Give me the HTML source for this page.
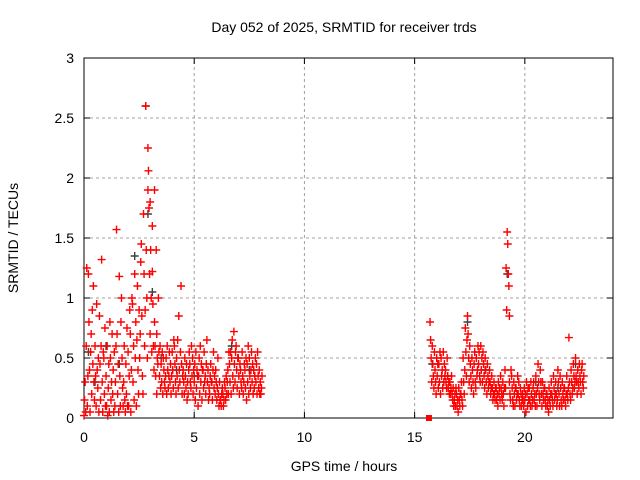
<!DOCTYPE html>
<html><head><meta charset="utf-8"><style>
body{margin:0;background:#fff}
svg{display:block;font-family:"Liberation Sans",sans-serif}
</style></head><body>
<svg id="chart" width="640" height="480">
<rect width="640" height="480" fill="#fff"/>
<text x="344" y="32" font-size="14" text-anchor="middle">Day 052 of 2025, SRMTID for receiver trds</text>
<g id="grid"></g>
<g id="axes"></g>
<g id="darkMarks"></g>
<g id="redMarks"></g>
<text x="344" y="471" font-size="14" text-anchor="middle">GPS time / hours</text>
<text transform="translate(18,238) rotate(-90)" font-size="14" text-anchor="middle">SRMTID / TECUs</text>
</svg>
<script>
const xTicks=[0,5,10,15,20];
const yTicks=[0,0.5,1,1.5,2,2.5,3];
const yTickLabels=["0","0.5","1","1.5","2","2.5","3"];
const redTimes=[0.0,0.1,0.2,0.3,0.4,0.5,0.6,0.7,0.8,0.9,1.0,1.1,1.2,1.3,1.4,1.5,1.6,1.7,1.8,1.9,2.0,2.1,2.2,2.3,2.4,2.5,2.6,2.7,2.8,2.9,3.0,3.1,3.2,3.3,3.4,3.5,3.6,3.7,3.8,3.9,4.0,4.1,4.2,4.3,4.4,4.5,4.6,4.7,4.8,4.9,5.0,5.1,5.2,5.3,5.4,5.5,5.6,5.7,5.8,5.9,6.0,6.1,6.2,6.3,6.4,6.5,6.6,6.7,6.8,6.9,7.0,7.1,7.2,7.3,7.4,7.5,7.6,7.7,7.8,7.9,8.0,
15.7,15.8,15.9,16.0,16.1,16.2,16.3,16.4,16.5,16.6,16.7,16.8,16.9,17.0,17.1,17.2,17.3,17.4,17.5,17.6,17.7,17.8,17.9,18.0,18.1,18.2,18.3,18.4,18.5,18.6,18.7,18.8,18.9,19.0,19.1,19.2,19.3,19.4,19.5,19.6,19.7,19.8,19.9,20.0,20.1,20.2,20.3,20.4,20.5,20.6,20.7,20.8,20.9,21.0,21.1,21.2,21.3,21.4,21.5,21.6,21.7,21.8,21.9,22.0,22.1,22.2,22.3,22.4,22.5,22.6];
const redValues=[[0.02,0.15,0.3,0.05],[0.6,1.25,0.1,0.35],[1.2,0.8,0.4,0.05],[0.55,0.7,0.2,0.9],[0.45,1.1,0.3,0.15],[0.6,0.35,0.1,0.95],[0.4,0.25,0.5,0.05],[0.85,0.45,0.15,0.6],[1.32,0.3,0.05,0.55],[0.5,0.2,0.75,0.1],[0.35,0.1,0.6,0.02],[0.25,0.45,0.05,0.8],[0.5,0.15,0.3,0.7],[0.2,0.4,0.05,0.55],[0.1,0.3,0.6,1.57],[0.7,0.2,0.45,0.05],[1.18,0.35,0.1,0.8],[1.0,0.5,0.25,0.1],[0.3,0.6,0.15,0.05],[0.45,0.2,0.75,0.1],[0.55,0.1,0.35,0.9],[0.7,0.05,0.4,1.0],[0.95,0.3,0.6,0.15],[1.2,0.5,0.8,0.1],[0.65,1.1,0.4,0.2],[0.9,0.5,0.7,1.3],[1.45,0.85,0.35,0.2],[1.7,1.2,0.6,0.9],[2.6,1.4,1.0,0.5,1.9],[2.25,2.06,1.75,1.2,0.7],[1.8,1.4,1.0,0.55,1.6],[1.22,0.95,0.6,0.4,1.9],[0.8,0.6,0.35,1.4,0.2],[0.7,0.5,0.45,1.0],[0.55,0.35,0.6,0.25],[0.45,0.3,0.55,0.2],[0.5,0.4,0.3,0.25],[0.35,0.5,0.2,0.6],[0.4,0.25,0.35,0.55],[0.3,0.45,0.2,0.35],[0.55,0.4,0.25,0.65],[0.6,0.45,0.3,0.2],[0.5,0.35,0.65,0.25],[0.85,0.4,0.3,0.55],[1.1,0.45,0.2,0.35],[0.4,0.3,0.2,0.5],[0.35,0.25,0.45,0.15],[0.3,0.2,0.4,0.55],[0.45,0.3,0.25,0.6],[0.35,0.5,0.2,0.4],[0.3,0.45,0.15,0.55],[0.25,0.4,0.35,0.1],[0.35,0.5,0.2,0.6],[0.3,0.45,0.15,0.4],[0.4,0.25,0.55,0.3],[0.35,0.2,0.45,0.65],[0.3,0.4,0.15,0.25],[0.2,0.35,0.45,0.3],[0.3,0.15,0.4,0.55],[0.25,0.35,0.2,0.4],[0.3,0.15,0.25,0.5],[0.2,0.1,0.3,0.15],[0.15,0.1,0.2,0.25],[0.2,0.1,0.15,0.3],[0.25,0.15,0.35,0.2],[0.3,0.4,0.2,0.55],[0.45,0.3,0.55,0.2],[0.5,0.65,0.35,0.25],[0.72,0.45,0.3,0.55],[0.6,0.4,0.25,0.5],[0.5,0.35,0.2,0.45],[0.4,0.3,0.25,0.55],[0.35,0.2,0.3,0.45],[0.4,0.25,0.5,0.15],[0.45,0.3,0.6,0.2],[0.5,0.35,0.25,0.4],[0.55,0.3,0.45,0.2],[0.4,0.25,0.35,0.5],[0.3,0.45,0.2,0.55],[0.35,0.25,0.4,0.2],[0.3,0.2,0.25,0.35],
[0.8,0.65,0.5,0.3],[0.6,0.45,0.35,0.25],[0.55,0.4,0.3,0.2],[0.5,0.35,0.45,0.25],[0.45,0.3,0.55,0.2],[0.5,0.35,0.4,0.25],[0.55,0.3,0.45,0.35],[0.4,0.3,0.25,0.5],[0.35,0.25,0.3,0.2],[0.3,0.2,0.25,0.35],[0.2,0.15,0.25,0.1],[0.15,0.2,0.1,0.25],[0.2,0.1,0.15,0.05],[0.25,0.15,0.1,0.2],[0.2,0.3,0.15,0.1],[0.5,0.3,0.2,0.4],[0.75,0.55,0.35,0.65],[0.85,0.7,0.5,0.3],[0.6,0.45,0.35,0.25],[0.5,0.4,0.3,0.2],[0.45,0.55,0.3,0.25],[0.5,0.35,0.4,0.6],[0.45,0.55,0.35,0.3],[0.6,0.4,0.5,0.3],[0.55,0.45,0.35,0.25],[0.5,0.4,0.3,0.2],[0.45,0.35,0.25,0.3],[0.4,0.3,0.2,0.25],[0.35,0.25,0.15,0.2],[0.3,0.2,0.15,0.25],[0.25,0.15,0.2,0.1],[0.3,0.2,0.25,0.15],[0.35,0.25,0.2,0.15],[0.3,0.2,0.1,0.25],[0.4,0.25,1.25,0.9],[1.55,1.45,1.2,1.1,0.85],[0.3,0.2,0.15,0.4],[0.35,0.25,0.15,0.1],[0.3,0.2,0.1,0.25],[0.25,0.15,0.2,0.35],[0.2,0.3,0.15,0.1],[0.25,0.2,0.1,0.15],[0.2,0.15,0.1,0.25],[0.15,0.2,0.05,0.3],[0.2,0.1,0.25,0.15],[0.25,0.15,0.1,0.3],[0.2,0.1,0.15,0.25],[0.3,0.15,0.2,0.1],[0.35,0.2,0.1,0.25],[0.45,0.3,0.2,0.15],[0.4,0.3,0.2,0.1],[0.3,0.2,0.15,0.25],[0.25,0.15,0.1,0.2],[0.2,0.1,0.15,0.05],[0.25,0.15,0.1,0.2],[0.3,0.2,0.15,0.1],[0.35,0.25,0.15,0.2],[0.3,0.2,0.1,0.15],[0.4,0.3,0.2,0.1],[0.35,0.25,0.15,0.1],[0.3,0.2,0.15,0.25],[0.25,0.15,0.1,0.2],[0.35,0.2,0.15,0.25],[0.67,0.3,0.2,0.15],[0.4,0.3,0.2,0.25],[0.45,0.35,0.25,0.3],[0.5,0.35,0.3,0.2],[0.4,0.3,0.25,0.45],[0.35,0.3,0.2,0.4],[0.45,0.3,0.25,0.35]];
const darkTimes=[0.2,0.5,1.0,1.6,2.3,2.8,2.9,3.1,3.5,4.2,5.0,5.8,6.7,7.5,15.8,16.5,17.4,18.2,19.2,20.5,21.5,22.3];
const darkValues=[0.55,0.3,0.6,0.45,1.35,2.6,1.7,1.05,0.5,0.4,0.35,0.3,0.6,0.4,0.45,0.35,0.8,0.4,1.2,0.3,0.25,0.45];
const squareTimes=[15.65];
const squareValues=[0];

const X0=84,X1=613,Y0=418,Y1=58,XMAX=24,YMAX=3;
const xs=t=>X0+(X1-X0)*t/XMAX;
const ys=v=>Y0-(Y0-Y1)*v/YMAX;
const NS="http://www.w3.org/2000/svg";
function mk(tag,attrs,parent){const e=document.createElementNS(NS,tag);for(const k in attrs)e.setAttribute(k,attrs[k]);parent.appendChild(e);return e;}
const grid=document.getElementById('grid'),axes=document.getElementById('axes');
yTicks.forEach((v,i)=>{
  const y=ys(v);
  if(v>0&&v<YMAX){const g=mk('line',{x1:X0,x2:X1,y1:y,y2:y,stroke:'#a0a0a0','stroke-dasharray':'3,3'},grid);
  
  }
  mk('line',{x1:X0,x2:X0+6,y1:y,y2:y,stroke:'#000'},axes);
  mk('line',{x1:X1-6,x2:X1,y1:y,y2:y,stroke:'#000'},axes);
  const t=mk('text',{x:X0-10,y:y+5,'font-size':14,'text-anchor':'end'},axes);t.textContent=yTickLabels[i];
  
  
});
xTicks.forEach(v=>{
  const x=xs(v);
  if(v>0){const g=mk('line',{x1:x,x2:x,y1:Y0,y2:Y1,stroke:'#a0a0a0','stroke-dasharray':'3,3'},grid);
  
  }
  mk('line',{x1:x,x2:x,y1:Y0,y2:Y0-6,stroke:'#000'},axes);
  mk('line',{x1:x,x2:x,y1:Y1,y2:Y1+6,stroke:'#000'},axes);
  const t=mk('text',{x:x,y:Y0+24,'font-size':14,'text-anchor':'middle'},axes);t.textContent=String(v);
  
  
});
mk('rect',{x:X0,y:Y1,width:X1-X0,height:Y0-Y1,fill:'none',stroke:'#000'},axes);
function plus(g,x,y,c){return mk('path',{d:`M${x-4} ${y}h8M${x} ${y-4}v8`,stroke:c,'stroke-width':1.4,fill:'none'},g);}
const dg=document.getElementById('darkMarks');
darkTimes.forEach((t,i)=>{const p=plus(dg,xs(t),ys(darkValues[i]),'#404040');
  
  });
const rg=document.getElementById('redMarks');
redTimes.forEach((t,i)=>{redValues[i].forEach((v,j)=>{
  const p=plus(rg,xs(t+j*0.025),ys(v),'#ff0000');
  
  });});
squareTimes.forEach((t,i)=>{const r=mk('rect',{x:xs(t)-3,y:ys(squareValues[i])-3,width:6,height:6,fill:'#ff0000'},rg);
  
  });
</script>
</body></html>
